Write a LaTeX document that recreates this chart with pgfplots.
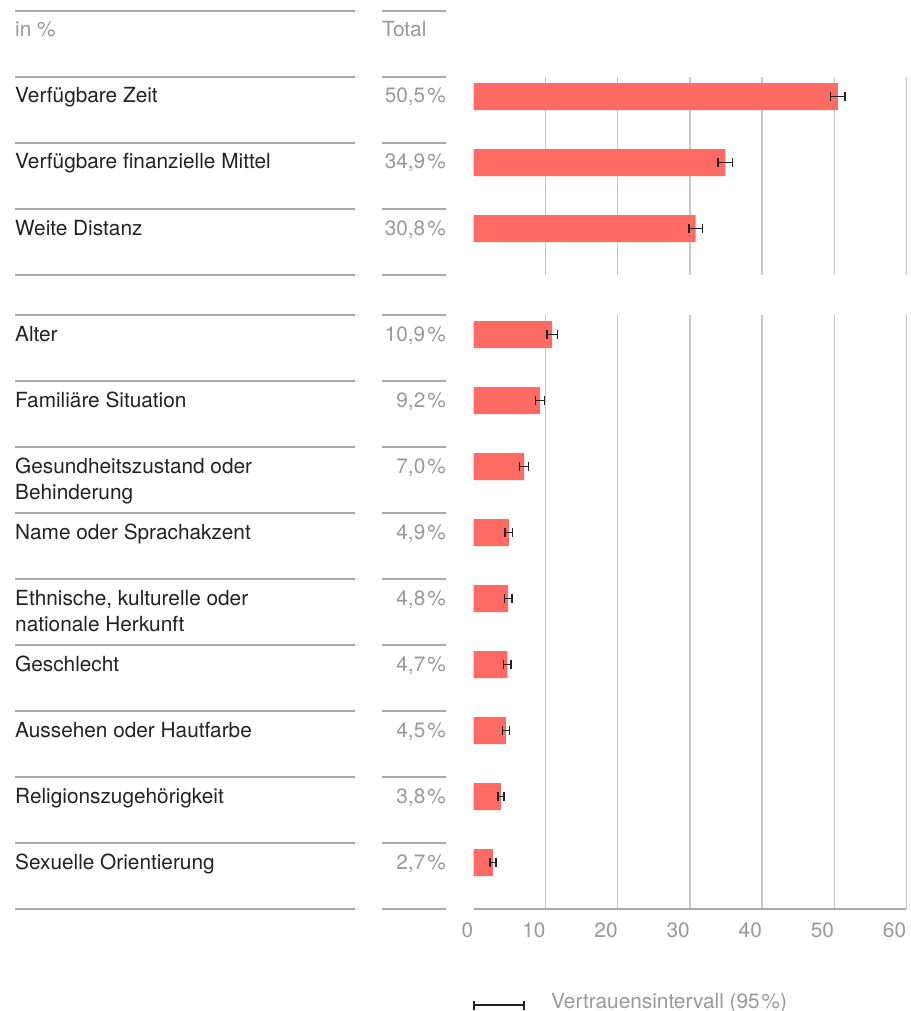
\documentclass[border=0pt]{standalone}
\usepackage{fontspec}
\setmainfont{TeX Gyre Heros}
\usepackage{pgfplots}
\usepackage{pgfplotstable}
\pgfplotsset{compat=1.18}

\definecolor{barred}{HTML}{FF6A62}
\definecolor{labelcol}{HTML}{222222}
\definecolor{valgray}{HTML}{999999}
\definecolor{linegray}{HTML}{A8A8A8}
\definecolor{gridgray}{HTML}{C6C6C6}
\definecolor{errcol}{HTML}{222222}

% value, half-width of the 95% interval, row
\pgfplotstableread{
val err row
50.5 1.00 1
34.9 1.00 2
30.8 0.92 3
}\topdata
\pgfplotstableread{
val err row
10.9 0.70 1
9.2  0.65 2
7.0  0.60 3
4.9  0.55 4
4.8  0.55 5
4.7  0.50 6
4.5  0.50 7
3.8  0.42 8
2.7  0.40 9
}\botdata

\pgfplotsset{
  rows/.style={
    scale only axis, width=432.8pt,
    xmin=0, xmax=60, y dir=reverse,
    ymin=0.7045,
    axis line style={draw=none}, major tick length=0pt,
    ytick=\empty,
    xmajorgrids, grid style={gridgray, line width=1.3pt},
    xbar, bar width=0.409,
  },
  errs/.style={
    fill=barred, draw=none,
    error bars/.cd, x dir=both, x explicit, error mark=|,
    error bar style={errcol, line width=1.3pt},
    error mark options={errcol, line width=1.3pt, mark size=4.6pt},
  },
}

\begin{document}
\begin{tikzpicture}[font=\fontsize{20.8}{26}\selectfont]
\useasboundingbox (0,0) rectangle (910pt,-1011pt);

% top group
\begin{axis}[rows, at={(473.5pt,-77pt)}, anchor=north west,
  height=198pt, ymax=3.7045,
  xtick={10,20,...,60}, xticklabels={}]
  \addplot[errs] table[x=val, y=row, x error=err] {\topdata};
\end{axis}

% bottom group
\begin{axis}[rows, at={(473.5pt,-315pt)}, anchor=north west,
  height=594pt, ymax=9.7045,
  xtick={10,20,...,60},
  extra x ticks={0}, extra x tick style={grid=none},
  xticklabel style={anchor=north east, inner sep=0pt, text=valgray,
    font=\fontsize{20.8}{26}\selectfont},
  xticklabel shift=14pt,
  /pgf/number format/assume math mode=true]
  \addplot[errs] table[x=val, y=row, x error=err] {\botdata};
\end{axis}

\begin{scope}[x=1pt, y=-1pt]
  % table rules
  \foreach \y in {11,77,143,209,275,315,381,447,513,579,645,711,777,843,909} {
    \draw[linegray, line width=1.3pt] (15,\y) -- (355,\y);
    \draw[linegray, line width=1.3pt] (382,\y) -- (446,\y);
  }
  \draw[linegray, line width=1.3pt] (473.5,909) -- (906.3,909);

  % header
  \node[anchor=base west, inner sep=0pt, text=valgray] at (15,37) {in \%};
  \node[anchor=base west, inner sep=0pt, text=valgray] at (382,37) {Total};

  % category labels
  \begin{scope}[every node/.style={anchor=base west, inner sep=0pt, text=labelcol}]
    \node at (15,103) {Verfügbare Zeit};
    \node at (15,169) {Verfügbare finanzielle Mittel};
    \node at (15,235) {Weite Distanz};
    \node at (15,341) {Alter};
    \node at (15,407) {Familiäre Situation};
    \node at (15,473) {Gesundheitszustand oder};
    \node at (15,499) {Behinderung};
    \node at (15,539) {Name oder Sprachakzent};
    \node at (15,605) {Ethnische, kulturelle oder};
    \node at (15,631) {nationale Herkunft};
    \node at (15,671) {Geschlecht};
    \node at (15,737) {Aussehen oder Hautfarbe};
    \node at (15,803) {Religionszugehörigkeit};
    \node at (15,869) {Sexuelle Orientierung};
  \end{scope}

  % totals
  \begin{scope}[every node/.style={anchor=base east, inner sep=0pt, text=valgray}]
    \node at (446,103) {50,5\hspace{2pt}\%};
    \node at (446,169) {34,9\hspace{2pt}\%};
    \node at (446,235) {30,8\hspace{2pt}\%};
    \node at (446,341) {10,9\hspace{2pt}\%};
    \node at (446,407) {9,2\hspace{2pt}\%};
    \node at (446,473) {7,0\hspace{2pt}\%};
    \node at (446,539) {4,9\hspace{2pt}\%};
    \node at (446,605) {4,8\hspace{2pt}\%};
    \node at (446,671) {4,7\hspace{2pt}\%};
    \node at (446,737) {4,5\hspace{2pt}\%};
    \node at (446,803) {3,8\hspace{2pt}\%};
    \node at (446,869) {2,7\hspace{2pt}\%};
  \end{scope}

  % legend key
  \draw[errcol, line width=1.3pt] (474,1005) -- (524,1005);
  \draw[errcol, line width=1.3pt] (474,1000.5) -- (474,1009.5);
  \draw[errcol, line width=1.3pt] (524,1000.5) -- (524,1009.5);
  \node[anchor=base west, inner sep=0pt, text=valgray] at (551,1008)
    {Vertrauensintervall (95\hspace{2pt}\%)};
\end{scope}
\end{tikzpicture}
\end{document}
